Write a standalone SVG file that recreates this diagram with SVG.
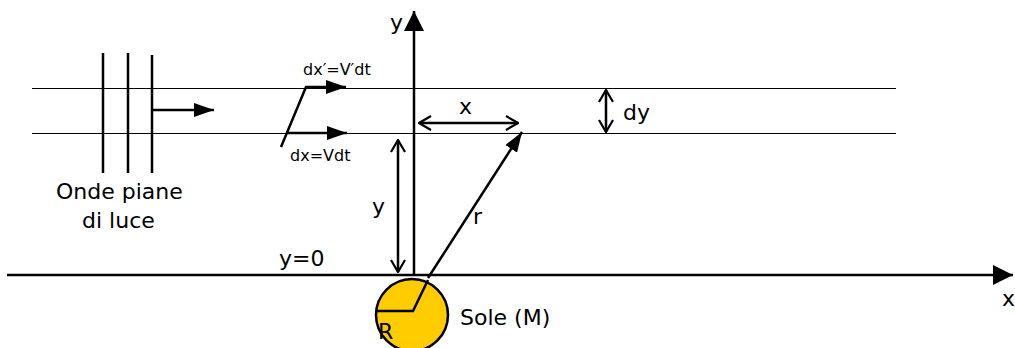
<svg xmlns="http://www.w3.org/2000/svg" width="1015" height="348" viewBox="0 0 1015 348">
<style>
text{font-family:"DejaVu Sans","Noto Sans",sans-serif;fill:#000}
.t{font-size:22px}
.s{font-size:16px}
.thin{stroke:#000;stroke-width:1;fill:none}
.med{stroke:#000;stroke-width:2.5;fill:none}
</style>
<defs>
<marker id="fb" markerWidth="20" markerHeight="14" refX="20" refY="7" orient="auto" markerUnits="userSpaceOnUse" viewBox="0 0 20 14"><path d="M0,0 L20,7 L0,14 Z" fill="#000"/></marker>
<marker id="fx" markerWidth="20" markerHeight="20" refX="20" refY="10" orient="auto" markerUnits="userSpaceOnUse" viewBox="0 0 20 20"><path d="M0,0 L20,10 L0,20 Z" fill="#000"/></marker>
<marker id="oa" markerWidth="14" markerHeight="16" refX="13" refY="8" orient="auto-start-reverse" markerUnits="userSpaceOnUse" viewBox="0 0 14 16"><path d="M1,1 L13,8 L1,15" fill="none" stroke="#000" stroke-width="2.2"/></marker>
</defs>
<g id="background-lines">
<line class="thin" x1="32" y1="88.5" x2="896" y2="88.5"/>
<line class="thin" x1="32" y1="133.5" x2="896" y2="133.5"/>
</g>
<g id="sun">
<circle cx="412" cy="315" r="36" fill="#FFCC00" stroke="#000" stroke-width="2.5"/>
<text class="t" x="378" y="339">R</text>
<text class="t" x="460" y="325">Sole (M)</text>
</g>
<g id="waves">
<line class="med" x1="103" y1="53" x2="103" y2="173"/>
<line class="med" x1="128" y1="53" x2="128" y2="173"/>
<line class="med" x1="152" y1="55" x2="152" y2="173"/>
<text class="t" x="56" y="199">Onde piane</text>
<text class="t" x="82" y="228">di luce</text>
</g>
<g id="labels">
<text class="t" x="390" y="30">y</text>
<text class="s" x="303" y="75">dx′=V′dt</text>
<text class="s" x="290" y="161">dx=Vdt</text>
<text class="t" x="459" y="114">x</text>
<text class="t" x="623" y="120">dy</text>
<text class="t" x="372" y="214">y</text>
<text class="t" x="473" y="224">r</text>
<text class="t" x="279" y="266">y=0</text>
<text class="t" x="1002" y="306">x</text>
</g>
<g id="connectors">
<line class="med" x1="7" y1="275" x2="1013" y2="275" marker-end="url(#fx)"/>
<line class="med" x1="414" y1="275" x2="414" y2="11" marker-end="url(#fx)"/>
<line class="med" x1="153" y1="110" x2="214" y2="110" marker-end="url(#fb)"/>
<polyline class="med" points="281,147 306,87 346,87" marker-end="url(#fb)"/>
<line class="med" x1="286" y1="133" x2="347" y2="133" marker-end="url(#fb)"/>
<polyline class="med" points="377,311 413,311 428,280"/>
<line class="med" x1="428" y1="278" x2="522" y2="132" marker-end="url(#fb)"/>
<line class="med" x1="419" y1="123" x2="518" y2="123" marker-start="url(#oa)" marker-end="url(#oa)"/>
<line class="med" x1="606" y1="90" x2="606" y2="132" marker-start="url(#oa)" marker-end="url(#oa)"/>
<line class="med" x1="398" y1="140" x2="398" y2="272" marker-start="url(#oa)" marker-end="url(#oa)"/>
</g>
</svg>
